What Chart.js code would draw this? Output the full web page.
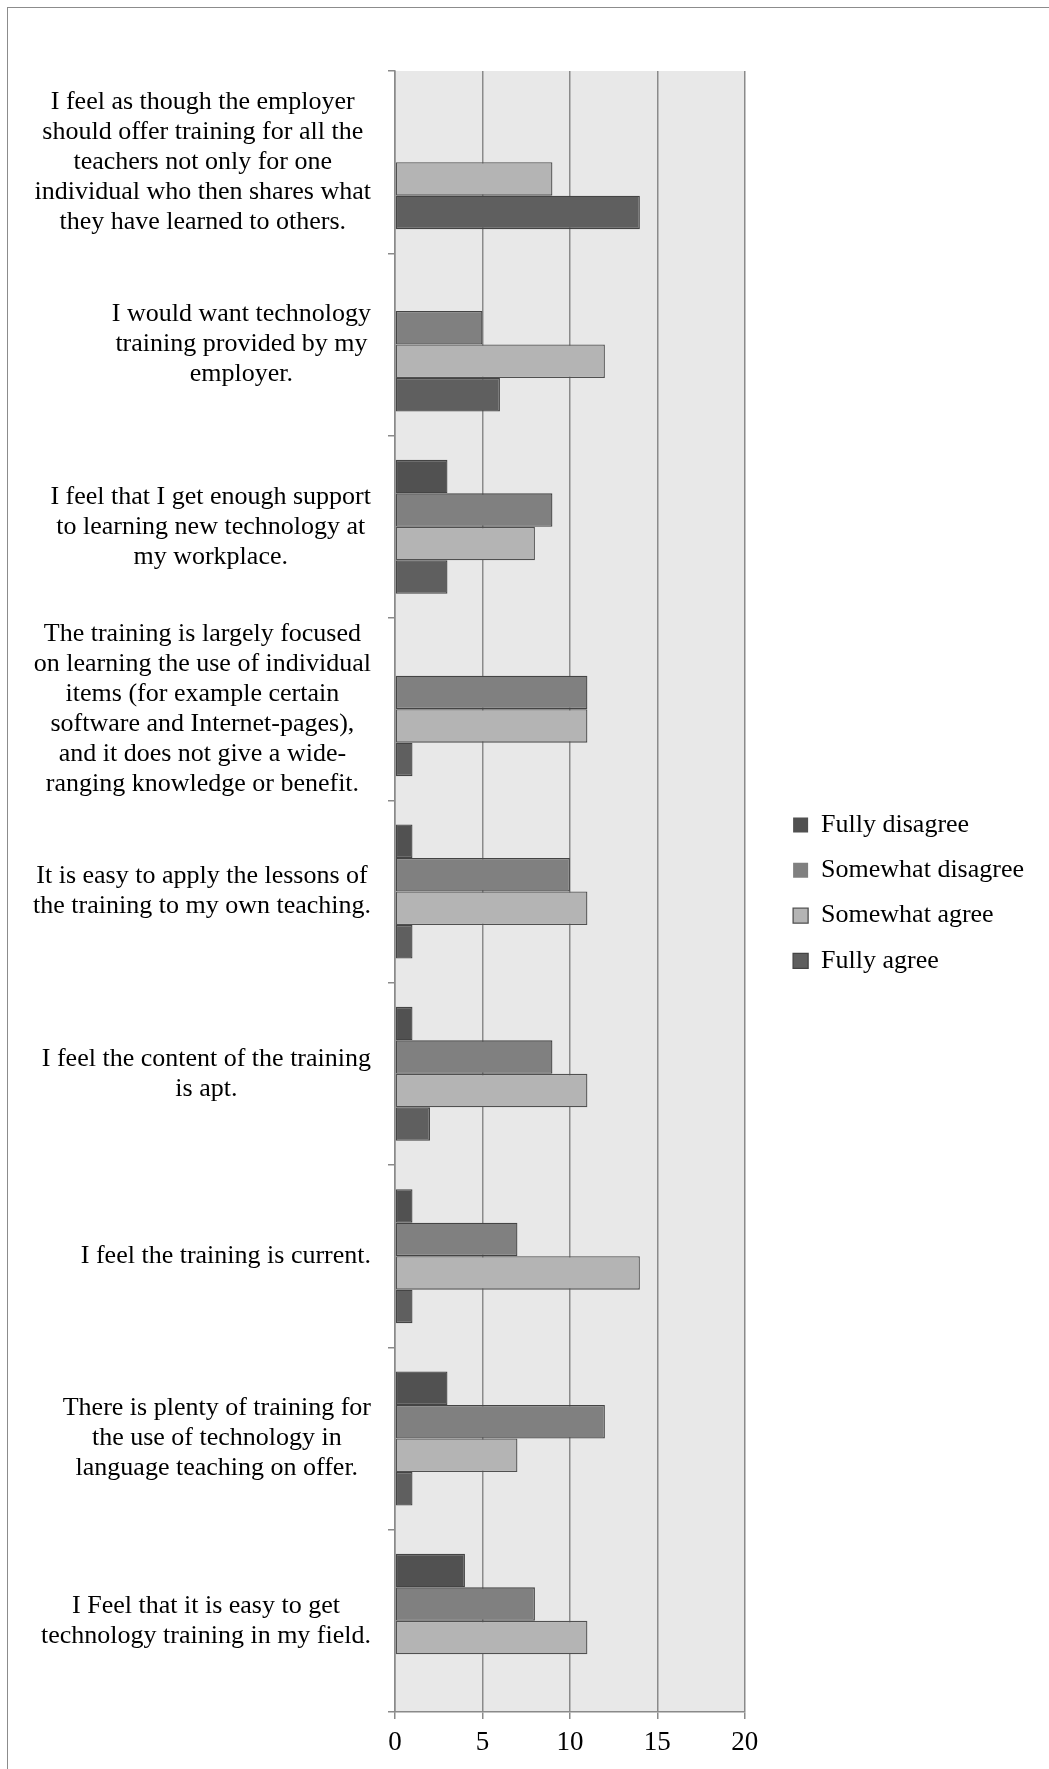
<!DOCTYPE html>
<html>
<head>
<meta charset="utf-8">
<script src="https://cdn.jsdelivr.net/npm/chart.js@4/dist/chart.umd.min.js"></script>
<style>
  html, body { margin: 0; padding: 0; background: #fff; }
  #wrap { position: relative; width: 1049px; height: 1769px; overflow: hidden; }
  #frame { position: absolute; left: 7px; top: 7px; width: 1100px; height: 1800px; border: 1.5px solid #8c8c8c; }
  canvas { position: absolute; left: 0; top: 0; }
</style>
</head>
<body>
<div id="wrap">
  <div id="frame"></div>
  <canvas id="context" width="1049" height="1769"></canvas>
</div>
<script>
// statements, top to bottom, with the line breaks of the original
const statements = [
  ['I feel as though the employer', 'should offer training for all the', 'teachers not only for one', 'individual who then shares what', 'they have learned to others.'],
  ['I would want technology', 'training provided by my', 'employer.'],
  ['I feel that I get enough support', 'to learning new technology at', 'my workplace.'],
  ['The training is largely focused', 'on learning the use of individual', 'items (for example certain', 'software and Internet-pages),', 'and it does not give a wide-', 'ranging knowledge or benefit.'],
  ['It is easy to apply the lessons of', 'the training to my own teaching.'],
  ['I feel the content of the training', 'is apt.'],
  ['I feel the training is current.'],
  ['There is plenty of training for', 'the use of technology in', 'language teaching on offer.'],
  ['I Feel that it is easy to get', 'technology training in my field.']
];

const fullyDisagree    = [0, 0, 3, 0, 1, 1, 1, 3, 4];
const somewhatDisagree = [0, 5, 9, 11, 10, 9, 7, 12, 8];
const somewhatAgree    = [9, 12, 8, 11, 11, 11, 14, 7, 11];
const fullyAgree       = [14, 6, 3, 1, 1, 2, 1, 1, 0];

const xTicks = [0, 5, 10, 15, 20];

const FONT = '"Liberation Serif", "Times New Roman", serif';
const AXIS_GREY = '#8a8a8a';

/**
 * Grey plot background, like the spreadsheet chart
 */
const plotBackground = {
  id: 'plotBackground',
  beforeDraw(chart) {
    const {ctx, chartArea: a} = chart;
    ctx.save();
    ctx.fillStyle = '#e8e8e8';
    ctx.fillRect(a.left, a.top, a.right - a.left, a.bottom - a.top);
    ctx.restore();
  }
};

/**
 * Category labels: each block right aligned to the axis, lines centred inside the block
 */
const blockLabels = {
  id: 'blockLabels',
  afterDraw(chart) {
    const {ctx} = chart;
    const yScale = chart.scales.y;
    const rightX = 371;
    const lineHeight = 30;
    ctx.save();
    ctx.font = '26px ' + FONT;
    ctx.fillStyle = '#000';
    ctx.textAlign = 'center';
    ctx.textBaseline = 'middle';
    statements.forEach((lines, i) => {
      const y = yScale.getPixelForValue(i);
      const widest = Math.max(...lines.map(l => ctx.measureText(l).width));
      const cx = rightX - widest / 2;
      lines.forEach((line, k) => {
        ctx.fillText(line, cx, y + (k - (lines.length - 1) / 2) * lineHeight);
      });
    });
    ctx.restore();
  }
};

function dataset(label, data, fill, stroke) {
  return {
    label,
    data,
    xAxisID: 'x',
    yAxisID: 'y',
    backgroundColor: fill,
    borderColor: stroke,
    borderWidth: c => (c.raw === 0 ? 0 : 1.3),
    borderSkipped: false,
    barPercentage: 1.0,
    categoryPercentage: 0.735
  };
}

// empty spacer axes, only there to reserve room in the layout
function spacer(axis, position, size) {
  return {
    axis,
    type: 'linear',
    position,
    display: true,
    grid: { display: false },
    border: { display: false },
    ticks: { display: false },
    afterFit(scale) {
      if (axis === 'y') scale.width = size; else scale.height = size;
    }
  };
}

const chart = new Chart(document.getElementById('context'), {
  type: 'bar',
  data: {
    labels: statements.map(s => s.join(' ')),
    datasets: [
      dataset('Fully disagree', fullyDisagree, '#515151', '#444444'),
      dataset('Somewhat disagree', somewhatDisagree, '#808080', '#444444'),
      dataset('Somewhat agree', somewhatAgree, '#b4b4b4', '#505050'),
      dataset('Fully agree', fullyAgree, '#5f5f5f', '#444444')
    ]
  },
  plugins: [plotBackground, blockLabels],
  options: {
    indexAxis: 'y',
    responsive: false,
    animation: false,
    devicePixelRatio: 1,
    layout: {
      padding: { left: 0, top: 17, right: 15, bottom: 0 }
    },
    scales: {
      x: {
        min: xTicks[0],
        max: xTicks[xTicks.length - 1],
        grid: {
          color: AXIS_GREY,
          lineWidth: 1.5,
          tickLength: 7
        },
        border: { display: true, color: AXIS_GREY, width: 1.5 },
        ticks: {
          stepSize: xTicks[1] - xTicks[0],
          color: '#000',
          padding: 8,
          font: { family: FONT, size: 27 }
        },
        afterFit(scale) { scale.height = 57; }
      },
      y: {
        position: 'left',
        offset: true,
        grid: {
          display: true,
          drawOnChartArea: false,
          drawTicks: true,
          tickLength: 7,
          color: AXIS_GREY,
          lineWidth: 1.5,
          offset: true
        },
        border: { display: true, color: AXIS_GREY, width: 1.5 },
        ticks: { display: false },
        afterFit(scale) { scale.width = 395; }
      },
      gapRight: spacer('y', 'right', 29),
      gapTop: spacer('x', 'top', 54)
    },
    plugins: {
      title: { display: false },
      tooltip: { enabled: false },
      legend: {
        position: 'right',
        align: 'center',
        maxWidth: 400,
        labels: {
          color: '#000',
          boxWidth: 15,
          boxHeight: 15,
          padding: 19.3,
          font: { family: FONT, size: 26 }
        }
      }
    }
  }
});
</script>
</body>
</html>
